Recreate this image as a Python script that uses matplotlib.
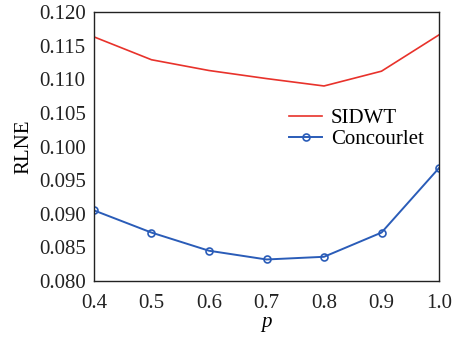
import matplotlib
matplotlib.use("Agg")
import matplotlib.pyplot as plt

p = [0.4, 0.5, 0.6, 0.7, 0.8, 0.9, 1.0]
sidwt = [0.1163, 0.1129, 0.1113, 0.1101, 0.1090, 0.1112, 0.1166]
concourlet = [0.0905, 0.0872, 0.0845, 0.0832, 0.0836, 0.0872, 0.0968]
yticks = [0.080, 0.085, 0.090, 0.095, 0.100, 0.105, 0.110, 0.115, 0.120]
xticks = [0.4, 0.5, 0.6, 0.7, 0.8, 0.9, 1.0]

plt.rcParams["font.family"] = ["Liberation Serif", "DejaVu Serif"]

fig = plt.figure(figsize=(4.57, 3.38), dpi=100)
ax = fig.add_axes([94 / 457, 1 - 281 / 338, 345 / 457, 269 / 338])

ax.plot(p, sidwt, color="#e8322b", lw=1.2, label="SIDWT")
ax.plot(p, concourlet, color="#2a5cb8", lw=1.4, marker="o", ms=5,
        mfc="none", mew=1.2, label="Concourlet")

ax.set_xlim(0.4, 1.0)
ax.set_ylim(0.080, 0.120)
ax.set_xticks(xticks)
ax.set_xticklabels([f"{v:.1f}" for v in xticks])
ax.set_yticks(yticks)
ax.set_yticklabels([f"{v:.3f}" for v in yticks])
ax.tick_params(axis="y", length=0, labelsize=15, colors="#222222", pad=6)
ax.tick_params(axis="x", length=0, labelsize=15, colors="#222222", pad=9)
for s in ax.spines.values():
    s.set_linewidth(1.0)
    s.set_color("#222222")

ax.set_xlabel("p", fontsize=15, style="italic", labelpad=0)
ax.set_ylabel("RLNE", fontsize=15, labelpad=4)

ax.legend(loc="upper right", bbox_to_anchor=(1.01, 0.71), frameon=False,
          fontsize=15, handlelength=1.6, handletextpad=0.4, labelspacing=0.05)

fig.savefig("out.png", dpi=100)
